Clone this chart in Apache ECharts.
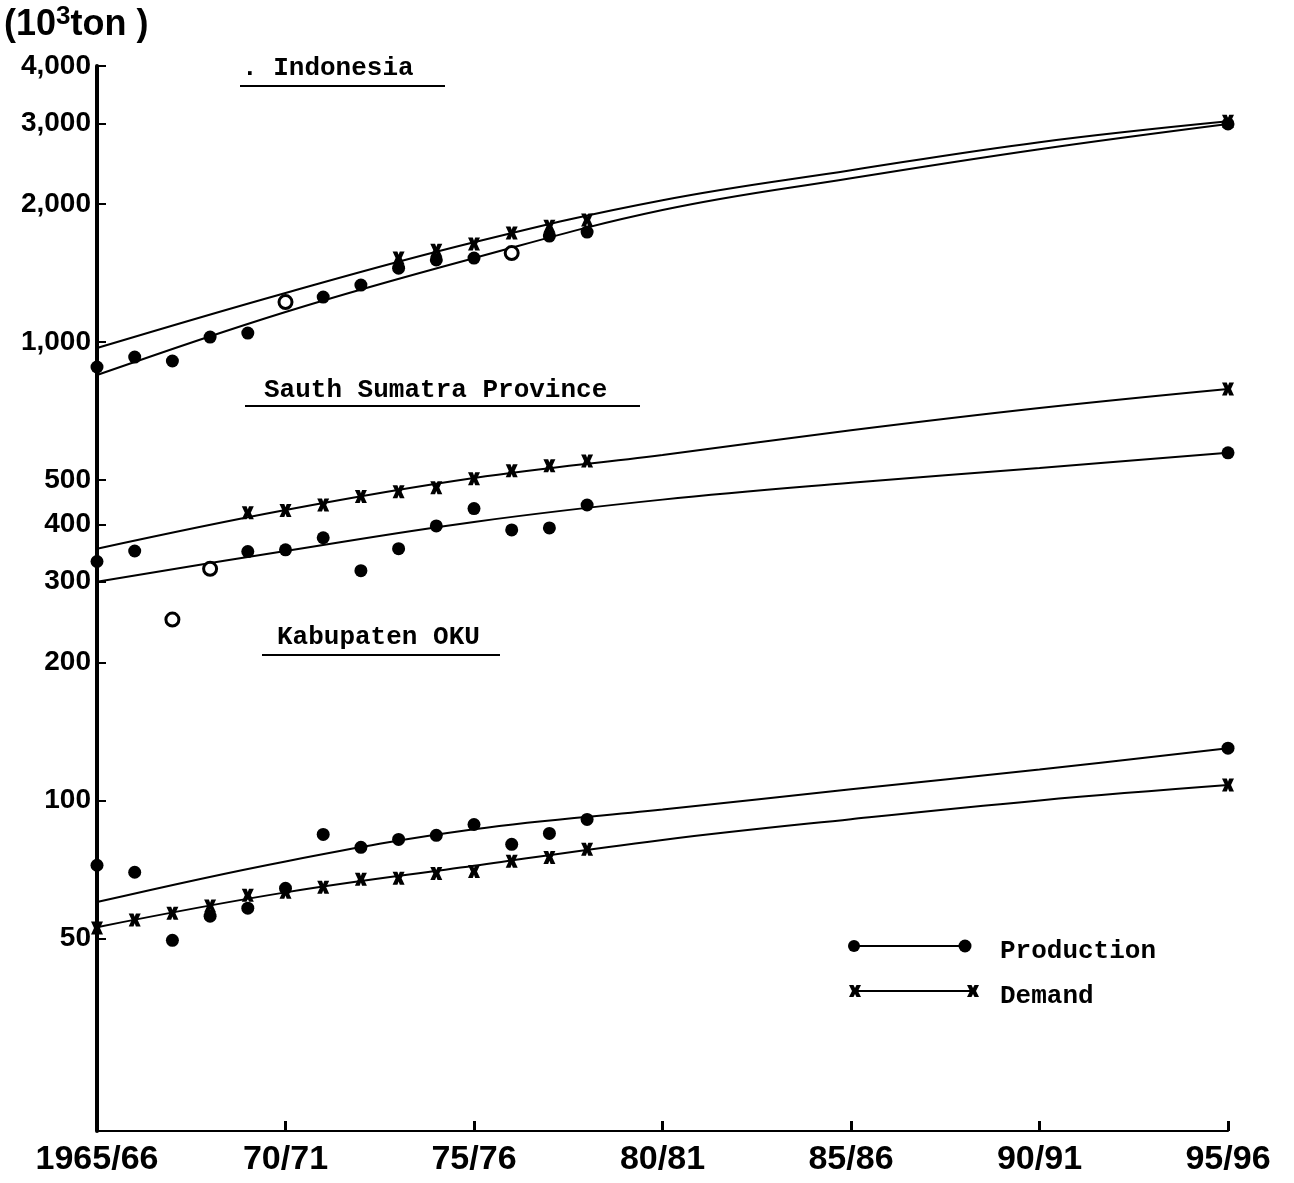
<!DOCTYPE html>
<html><head><meta charset="utf-8">
<script src="https://cdn.jsdelivr.net/npm/echarts@6/dist/echarts.min.js"></script>
<style>html,body{margin:0;padding:0;background:#fff}#c{width:1294px;height:1183px}</style>
</head><body><div id="c"></div>
<script>
// ---------- data ----------
const obsYears = [1965,1966,1967,1968,1969,1970,1971,1972,1973,1974,1975,1976,1977,1978];
const curveYears = [1965,1970,1975,1980,1985,1990,1995];
const xTicks = [1965,1970,1975,1980,1985,1990,1995];
const xTickLabels = ['1965/66','70/71','75/76','80/81','85/86','90/91','95/96'];
const yTicks = [50,100,200,300,400,500,1000,2000,3000,4000];
const yTickLabels = ['50','100','200','300','400','500','1,000','2,000','3,000','4,000'];

// Indonesia
const indoProd = [882,927,909,1025,1046,1222,1253,1331,1449,1510,1524,1563,1702,1737];
const indoProdOpen = [1970,1976];
const indoDem = [null,null,null,null,null,null,null,null,1524,1586,1635,1728,1789,1845];
const indoProdCurve = [847,1163,1524,1940,2276,2634,2990];
const indoDemCurve = [970,1279,1650,2039,2370,2728,3030];
const indoEnd = {prod: 2990, dem: 3030};

// South Sumatra Province
const ssProd = [332,350,248,320,349,352,374,317,354,397,433,389,393,441];
const ssProdOpen = [1967,1968];
const ssDem = [null,null,null,null,424,429,441,460,471,481,503,524,537,550];
const ssProdCurve = [300,350,405,453,493,531,573];
const ssDemCurve = [354,430,505,567,642,718,790];
const ssEnd = {prod: 573, dem: 790};

// Kabupaten OKU
const okuProd = [72.2,69.7,49.5,55.9,58.2,64.3,84.3,79.0,82.2,83.9,88.6,80.2,84.7,90.9];
const okuProdOpen = [];
const okuDem = [52.7,54.8,56.7,58.8,62.1,63.0,64.6,67.3,67.6,69.3,70.0,73.7,75.1,78.2];
const okuProdCurve = [60,73.6,86.5,95.5,105.7,116.8,130];
const okuDemCurve = [52.9,63,72,82,91,100,108];
const okuEnd = {prod: 130, dem: 108};

// ---------- build ----------
const X_PATH = 'path://M0,0L4,0L5,2.5L6,0L10,0L7.5,5L10,10L6,10L5,7.5L4,10L0,10L2.5,5Z';
const FONT_MONO = "'Liberation Mono','DejaVu Sans Mono',monospace";
const FONT_NUM = "'Liberation Sans','DejaVu Sans',sans-serif";

function pts(arr, years){ const out=[]; arr.forEach((v,i)=>{ if(v!=null) out.push([years[i],v]); }); return out; }
const regions = [
  {name:'Indonesia', prod:indoProd, open:indoProdOpen, dem:indoDem, pc:indoProdCurve, dc:indoDemCurve, end:indoEnd},
  {name:'South Sumatra', prod:ssProd, open:ssProdOpen, dem:ssDem, pc:ssProdCurve, dc:ssDemCurve, end:ssEnd},
  {name:'OKU', prod:okuProd, open:okuProdOpen, dem:okuDem, pc:okuProdCurve, dc:okuDemCurve, end:okuEnd}
];
const series = [];
regions.forEach(r=>{
  ['pc','dc'].forEach(k=>{
    series.push({type:'line', name:r.name+' '+k, data:pts(r[k],curveYears), smooth:0.4,
      symbol:'none', lineStyle:{color:'#000', width:2}, silent:true, z:2});
  });
  const prodData = pts(r.prod, obsYears).map(p=> r.open.includes(p[0]) ?
      {value:p, itemStyle:{color:'#fff', borderColor:'#000', borderWidth:3, opacity:1}} : {value:p});
  prodData.push({value:[1995, r.end.prod]});
  series.push({type:'scatter', name:r.name+' production', data:prodData, symbol:'circle', symbolSize:13,
    itemStyle:{color:'#000', opacity:1}, z:4});
  const demData = pts(r.dem, obsYears);
  demData.push([1995, r.end.dem]);
  series.push({type:'scatter', name:r.name+' demand', data:demData, symbol:X_PATH, symbolSize:[12,13],
    itemStyle:{color:'#000', opacity:1}, z:5});
});

const titleText = (txt,x,y)=>({type:'text', left:x, top:y, style:{text:txt, font:"bold 26px "+FONT_MONO, fill:'#000'}});
const uline = (x1,x2,y)=>({type:'line', shape:{x1:x1,y1:y,x2:x2,y2:y}, style:{stroke:'#000', lineWidth:2}});
const X_PTS = (cx,cy)=>[[cx-6,cy-6],[cx-1.5,cy-6],[cx,cy-3],[cx+1.5,cy-6],[cx+6,cy-6],[cx+3,cy],[cx+6,cy+6],[cx+1.5,cy+6],[cx,cy+3],[cx-1.5,cy+6],[cx-6,cy+6],[cx-3,cy]];

const graphic = [
  {type:'text', left:4, top:4, style:{rich:{a:{font:"bold 36px "+FONT_NUM, fill:'#000'}, s:{font:"bold 26px "+FONT_NUM, fill:'#000', verticalAlign:'top', padding:[0,0,16,0]}}, text:'{a|(10}{s|3}{a|ton )}'}},
  titleText('. Indonesia', 242, 55), uline(240,445,86),
  titleText('Sauth Sumatra Province', 264, 377), uline(245,640,406),
  titleText('Kabupaten OKU', 277, 624), uline(262,500,655),
  // legend
  {type:'line', shape:{x1:853,y1:946,x2:965,y2:946}, style:{stroke:'#000', lineWidth:2}},
  {type:'circle', shape:{cx:854,cy:946,r:6}, style:{fill:'#000'}},
  {type:'circle', shape:{cx:965,cy:946,r:6.5}, style:{fill:'#000'}},
  {type:'text', left:1000, top:938, style:{text:'Production', font:"bold 26px "+FONT_MONO, fill:'#000'}},
  {type:'line', shape:{x1:853,y1:991,x2:975,y2:991}, style:{stroke:'#000', lineWidth:2}},
  {type:'polygon', shape:{points:X_PTS(855,991)}, style:{fill:'#000'}},
  {type:'polygon', shape:{points:X_PTS(973,991)}, style:{fill:'#000'}},
  {type:'text', left:1000, top:983, style:{text:'Demand', font:"bold 26px "+FONT_MONO, fill:'#000'}}
];

const chart = echarts.init(document.getElementById('c'));
chart.setOption({
  backgroundColor:'#fff',
  animation:false,
  grid:{left:97, right:66, top:66, bottom:52, containLabel:false, outerBoundsMode:'none'},
  xAxis:{type:'value', min:1965, max:1995, interval:5,
    axisLine:{lineStyle:{color:'#000', width:2}},
    axisTick:{inside:true, length:10, lineStyle:{color:'#000', width:3}},
    splitLine:{show:false},
    axisLabel:{margin:12, color:'#000', fontFamily:FONT_NUM, fontWeight:'bold', fontSize:34,
      formatter:v=>{const i=xTicks.indexOf(v); return i>=0?xTickLabels[i]:'';}}},
  yAxis:{type:'log', logBase:10, min:19, max:4000,
    axisLine:{show:true, lineStyle:{color:'#000', width:4}},
    axisTick:{inside:true, length:9, customValues:yTicks, lineStyle:{color:'#000', width:2}},
    splitLine:{show:false}, minorTick:{show:false},
    axisLabel:{customValues:yTicks, margin:6, color:'#000', fontFamily:FONT_NUM, fontWeight:'bold', fontSize:28,
      formatter:v=>{const i=yTicks.findIndex(t=>Math.abs(t-v)<1e-6*t); return i>=0?yTickLabels[i]:'';}}},
  series:series,
  graphic:graphic
});
</script></body></html>
